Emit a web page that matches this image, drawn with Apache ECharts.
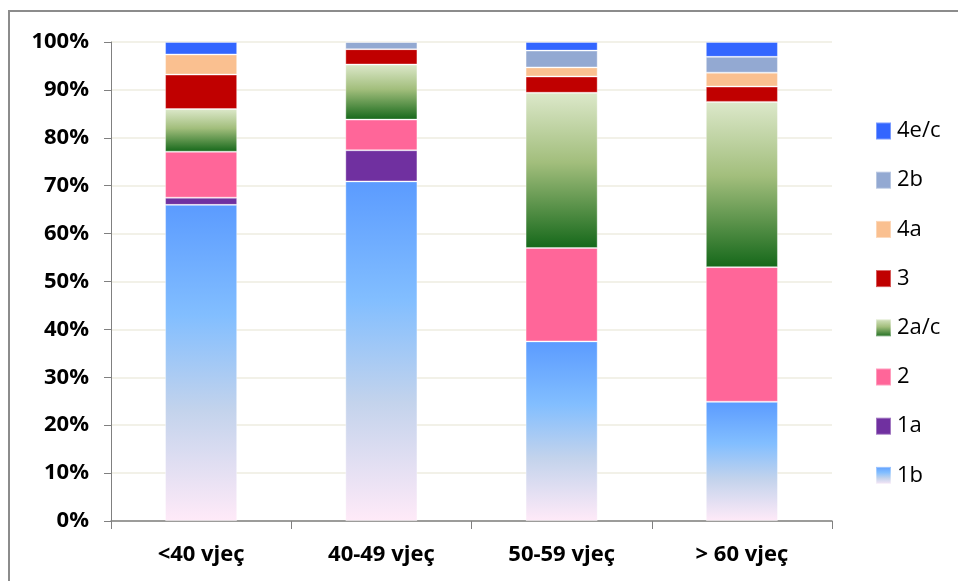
<!DOCTYPE html>
<html>
<head>
<meta charset="utf-8">
<script src="https://cdn.jsdelivr.net/npm/echarts@6/dist/echarts.min.js"></script>
<style>
html,body{margin:0;padding:0;background:#fff;}
#chart{width:958px;height:581px;}
</style>
</head>
<body>
<div id="chart"></div>
<script>
// Age groups on the x axis
const categories = ['<40 vjeç', '40-49 vjeç', '50-59 vjeç', '> 60 vjeç'];

// Share (%) of each class per age group, bottom to top of the stack
const s1b  = [66.0, 70.9, 37.5, 24.9];
const s1a  = [1.5, 6.5, 0, 0];
const s2   = [9.6, 6.4, 19.5, 28.1];
const s2ac = [8.9, 11.5, 32.4, 34.5];
const s3   = [7.2, 3.2, 3.4, 3.2];
const s4a  = [4.2, 0, 1.9, 2.9];
const s2b  = [0, 1.5, 3.5, 3.3];
const s4ec = [2.6, 0, 1.8, 3.1];

const yTicks = [0, 10, 20, 30, 40, 50, 60, 70, 80, 90, 100];

const grad = (stops) => new echarts.graphic.LinearGradient(0, 0, 0, 1,
  stops.map(([o, c]) => ({ offset: o, color: c })));

const blueGrad = grad([[0, '#5B9BFF'], [0.35, '#82BEFF'], [0.65, '#C3D3EC'], [1, '#FFEAF8']]);
const greenGrad = grad([[0, '#DCE8CA'], [0.45, '#A2BE7C'], [1, '#15681A']]);

const series = [
  { name: '1b', data: s1b, color: blueGrad },
  { name: '1a', data: s1a, color: '#7030A0' },
  { name: '2', data: s2, color: '#FF6699' },
  { name: '2a/c', data: s2ac, color: greenGrad },
  { name: '3', data: s3, color: '#C00000' },
  { name: '4a', data: s4a, color: '#FAC090' },
  { name: '2b', data: s2b, color: '#93A9D2' },
  { name: '4e/c', data: s4ec, color: '#3366FF' }
].map(s => ({
  name: s.name,
  type: 'bar',
  stack: 'total',
  barWidth: '40%',
  data: s.data,
  itemStyle: { color: s.color, borderColor: 'rgba(255,255,255,0.35)', borderWidth: 1 },
  emphasis: { disabled: true }
}));

const chart = echarts.init(document.getElementById('chart'), null, { renderer: 'canvas' });
chart.setOption({
  animation: false,
  backgroundColor: '#fff',
  grid: { left: 111, right: 126, top: 42, bottom: 60, containLabel: false },
  legend: {
    orient: 'vertical',
    left: 870,
    top: 115,
    itemGap: 27.2,
    itemWidth: 15,
    itemHeight: 17,
    icon: 'rect',
    data: ['4e/c', '2b', '4a', '3', '2a/c', '2', '1a', '1b'],
    textStyle: { fontFamily: 'Open Sans', fontSize: 22, color: '#000', padding: [0, 0, 0, 1] }
  },
  xAxis: {
    type: 'category',
    data: categories,
    axisLine: { lineStyle: { color: '#808080', width: 1.5 } },
    axisTick: { show: true, length: 8, lineStyle: { color: '#808080' } },
    axisLabel: { margin: 23, fontFamily: 'Open Sans', fontWeight: 'bold', fontSize: 22, color: '#000' }
  },
  yAxis: {
    type: 'value',
    min: 0,
    max: 100,
    interval: 10,
    axisLine: { show: true, lineStyle: { color: '#808080', width: 1 } },
    axisTick: { show: true, inside: false, length: 7, lineStyle: { color: '#808080' } },
    splitLine: { lineStyle: { color: '#EEECE1', width: 1.5 } },
    axisLabel: {
      margin: 22,
      fontFamily: 'Open Sans', fontWeight: 'bold', fontSize: 22, color: '#000',
      formatter: v => (yTicks.includes(v) ? v + '%' : '')
    }
  },
  graphic: [{
    type: 'rect',
    shape: { x: 9, y: 11, width: 1100, height: 800 },
    style: { fill: 'none', stroke: '#8C8C8C', lineWidth: 2 },
    silent: true
  }],
  series: series
});
</script>
</body>
</html>
